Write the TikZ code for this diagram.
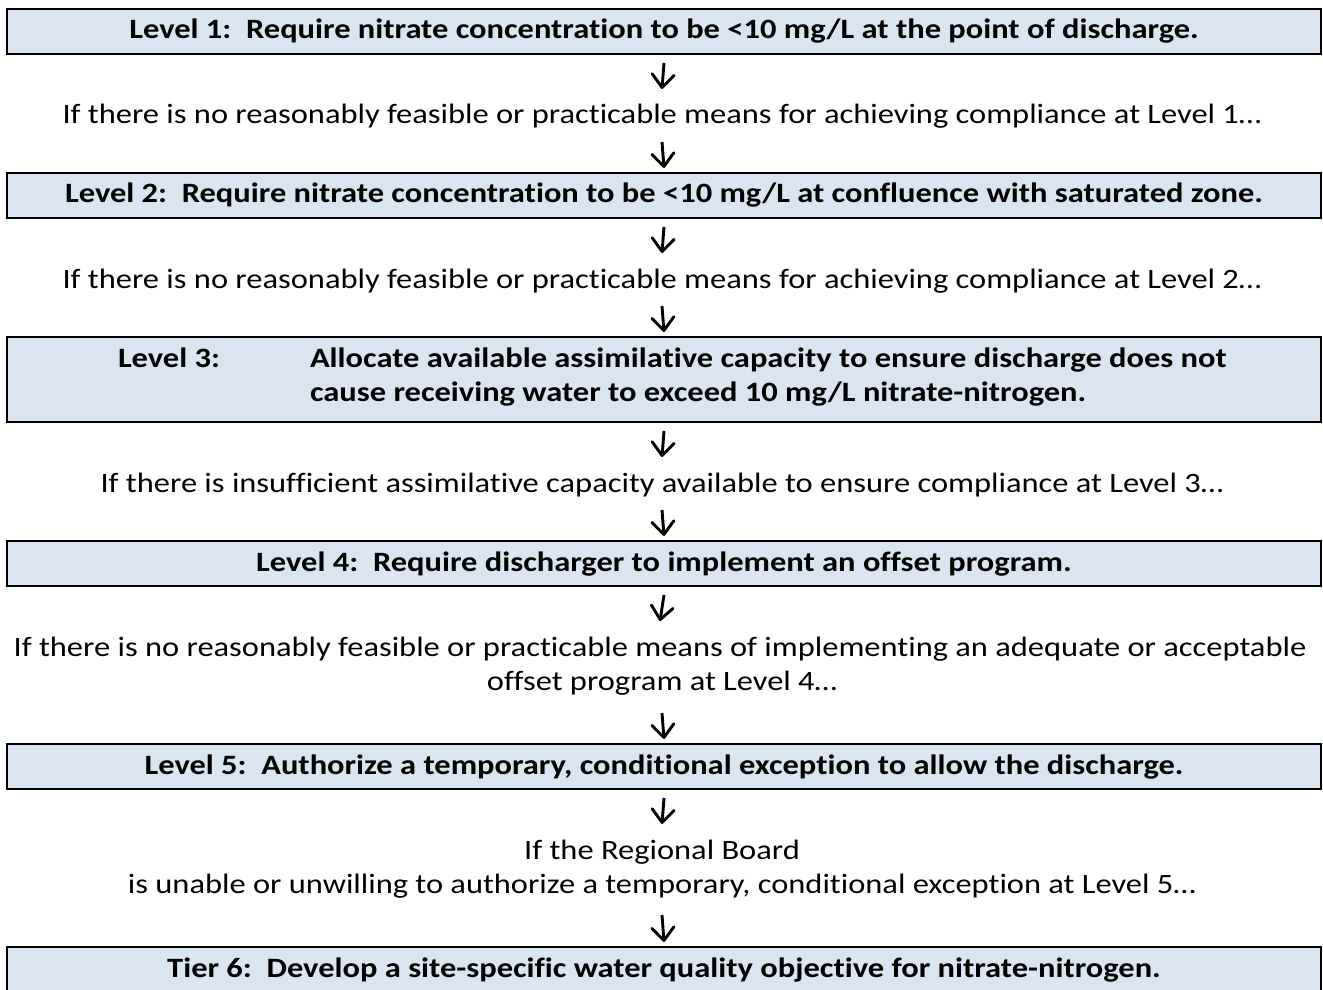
\documentclass[tikz,border=0pt]{standalone}
\usepackage{fontspec}
\setmainfont{Carlito}[Ligatures=NoCommon, FakeStretch=1.16]
\usetikzlibrary{arrows.meta}
\definecolor{boxfill}{HTML}{DBE5F1}
\AtBeginDocument{\frenchspacing}
\begin{document}
\begin{tikzpicture}[x=0.5pt,y=-0.5pt,
  lvlbox/.style={draw=black, line width=1.25pt, fill=boxfill, minimum width=657pt,
    minimum height=22.5pt, inner sep=0pt, outer sep=0pt,
    font=\fontsize{14pt}{17pt}\selectfont\bfseries, text height=10.5pt, text depth=3pt},
  boxline/.style={inner sep=0pt, outer sep=0pt, anchor=base west,
    font=\fontsize{14pt}{17pt}\selectfont\bfseries},
  gaptext/.style={inner sep=0pt, outer sep=0pt, anchor=base,
    font=\fontsize{14pt}{17pt}\selectfont, text height=10.5pt, text depth=3pt},
  conn/.style={line width=1.45pt, -{Straight Barb[length=6.5pt,width=11pt,round]}},
]
\useasboundingbox (0,0) rectangle (1323,990);

% level boxes
\node[lvlbox] (b1) at (664,31.5) {Level 1:\ \ Require nitrate concentration to be <10 mg/L at the point of discharge.};
\node[lvlbox] (b2) at (664,195.5) {Level 2:\ \ Require nitrate concentration to be <10 mg/L at confluence with saturated zone.};
\node[lvlbox, minimum height=42.5pt] (b3) at (664,379.5) {};
\node[boxline] (l3a) at (118,367) {Level 3:};
\node[boxline] (l3b) at (310,367) {Allocate available assimilative capacity to ensure discharge does not};
\node[boxline] (l3c) at (310,401) {cause receiving water to exceed 10 mg/L nitrate-nitrogen.};
\node[lvlbox] (b4) at (664,563.5) {Level 4:\ \ Require discharger to implement an offset program.};
\node[lvlbox] (b5) at (664,766.5) {Level 5:\ \ Authorize a temporary, conditional exception to allow the discharge.};
\node[lvlbox] (b6) at (664,969.5) {Tier 6:\ \ Develop a site-specific water quality objective for nitrate-nitrogen.};

% texts between boxes
\node[gaptext] (t1) at (662,124) {If there is no reasonably feasible or practicable means for achieving compliance at Level 1…};
\node[gaptext] (t2) at (662,288) {If there is no reasonably feasible or practicable means for achieving compliance at Level 2…};
\node[gaptext] (t3) at (662,492) {If there is insufficient assimilative capacity available to ensure compliance at Level 3…};
\node[gaptext] (t4a) at (660,656) {If there is no reasonably feasible or practicable means of implementing an adequate or acceptable};
\node[gaptext] (t4b) at (662,690) {offset program at Level 4…};
\node[gaptext] (t5a) at (662,859) {If the Regional Board};
\node[gaptext] (t5b) at (662,893) {is unable or unwilling to authorize a temporary, conditional exception at Level 5…};

% connectors
\draw[conn] ([yshift=-4.5pt]b1.south) -- ([yshift=7pt]t1.north);
\draw[conn] ([yshift=-6pt]t1.south) -- ([yshift=2.5pt]b2.north);
\draw[conn] ([yshift=-4.5pt]b2.south) -- ([yshift=7pt]t2.north);
\draw[conn] ([yshift=-6pt]t2.south) -- ([yshift=2.5pt]b3.north);
\draw[conn] ([yshift=-4.5pt]b3.south) -- ([yshift=7pt]t3.north);
\draw[conn] ([yshift=-6pt]t3.south) -- ([yshift=2.5pt]b4.north);
\draw[conn] ([yshift=-4.5pt]b4.south) -- ([yshift=7pt]t4a.north);
\draw[conn] ([yshift=-8.5pt]t4b.south) -- ([yshift=2.5pt]b5.north);
\draw[conn] ([yshift=-4.5pt]b5.south) -- ([yshift=7pt]t5a.north);
\draw[conn] ([yshift=-8pt]t5b.south) -- ([yshift=2.5pt]b6.north);
\end{tikzpicture}
\end{document}
